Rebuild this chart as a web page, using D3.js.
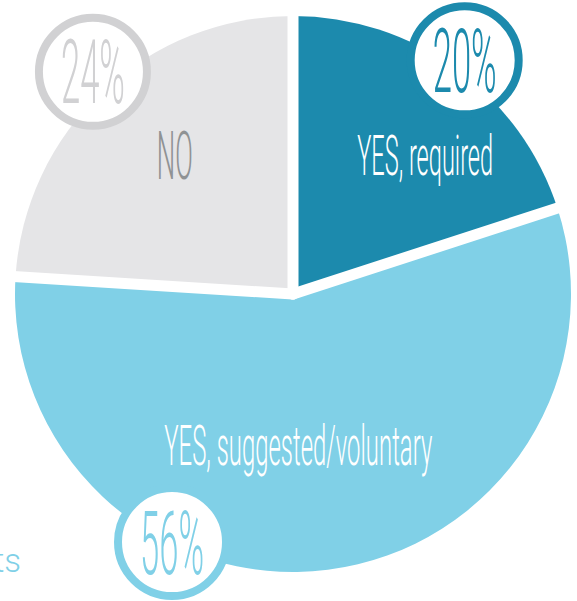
<!DOCTYPE html>
<html>
<head>
<meta charset="utf-8">
<script src="https://cdn.jsdelivr.net/npm/d3@7"></script>
<style>
  html, body { margin: 0; padding: 0; background: #fff; }
  svg { display: block; }
  text { font-family: Roboto, "Open Sans", sans-serif; }
</style>
</head>
<body>
<script>
// data
const categories = ["YES, required", "YES, suggested/voluntary", "NO"];
const shares = [20, 56, 24];
const percentLabels = ["20%", "56%", "24%"];

const sliceColors = ["#1c8aad", "#80d0e7", "#e5e5e7"];
const ringColors = ["#1c8aad", "#80d0e7", "#d1d1d3"];
const labelColors = ["#ffffff", "#ffffff", "#8f9294"];

const width = 577, height = 601;
const cx = 293, cy = 294, radius = 278;

// where the text sits, in degrees clockwise from 12 o'clock
const labelPlace = [{a: 43.5, r: 192, size: 56, w: 136}, {a: 178, r: 151, size: 56, w: 268}, {a: 319.5, r: 182, size: 67, w: 36}];
const badgePlace = [{a: 36.3, r: 290}, {a: 206, r: 276}, {a: 318, r: 299}];

const svg = d3.select("body").append("svg").attr("width", width).attr("height", height);
const chart = svg.append("g").attr("transform", `translate(${cx},${cy})`);

const pie = d3.pie().sort(null).value(d => d);
const arcs = pie(shares);
const arc = d3.arc().innerRadius(0).outerRadius(radius);

chart.selectAll("path.slice").data(arcs).enter()
  .append("path")
  .attr("class", "slice")
  .attr("d", arc)
  .attr("fill", (d, i) => sliceColors[i]);

// white gaps between slices
chart.selectAll("line.gap").data(arcs).enter()
  .append("line")
  .attr("x1", 0).attr("y1", 0)
  .attr("x2", d => (radius + 10) * Math.sin(d.startAngle))
  .attr("y2", d => -(radius + 10) * Math.cos(d.startAngle))
  .attr("stroke", "#fff")
  .attr("stroke-width", 11)
  .attr("stroke-linecap", "round");

const polar = (a, r) => [r * Math.sin(a * Math.PI / 180), -r * Math.cos(a * Math.PI / 180)];

// squeeze a text horizontally to a given width (the original face is condensed)
function condense(sel, x, y, w) {
  sel.each(function(d, i) {
    const s = w(d, i) / this.getComputedTextLength();
    d3.select(this).attr("transform", `translate(${x(d, i)},${y(d, i)}) scale(${s},1)`);
  });
}

chart.selectAll("text.label").data(categories).enter()
  .append("text")
  .attr("class", "label")
  .attr("text-anchor", "middle")
  .attr("font-size", (d, i) => labelPlace[i].size)
  .attr("font-weight", 300)
  .attr("fill", (d, i) => labelColors[i])
  .text(d => d)
  .call(condense,
    (d, i) => polar(labelPlace[i].a, labelPlace[i].r)[0],
    (d, i) => polar(labelPlace[i].a, labelPlace[i].r)[1] + labelPlace[i].size * 0.355,
    (d, i) => labelPlace[i].w);

const badges = chart.selectAll("g.badge").data(percentLabels).enter()
  .append("g")
  .attr("class", "badge")
  .attr("transform", (d, i) => `translate(${polar(badgePlace[i].a, badgePlace[i].r)})`);

badges.append("circle")
  .attr("r", 54)
  .attr("fill", "#fff")
  .attr("stroke", (d, i) => ringColors[i])
  .attr("stroke-width", 8);

badges.append("text")
  .attr("text-anchor", "middle")
  .attr("font-size", 89)
  .attr("font-weight", 300)
  .attr("fill", (d, i) => ringColors[i])
  .text(d => d)
  .call(condense, () => 0, () => 89 * 0.355, () => 64);

// cut-off text from neighbouring content
svg.append("text")
  .attr("x", 21).attr("y", 572)
  .attr("text-anchor", "end")
  .attr("font-size", 33)
  .attr("font-weight", 300)
  .attr("fill", "#80d0e7")
  .text("ts");
</script>
</body>
</html>
